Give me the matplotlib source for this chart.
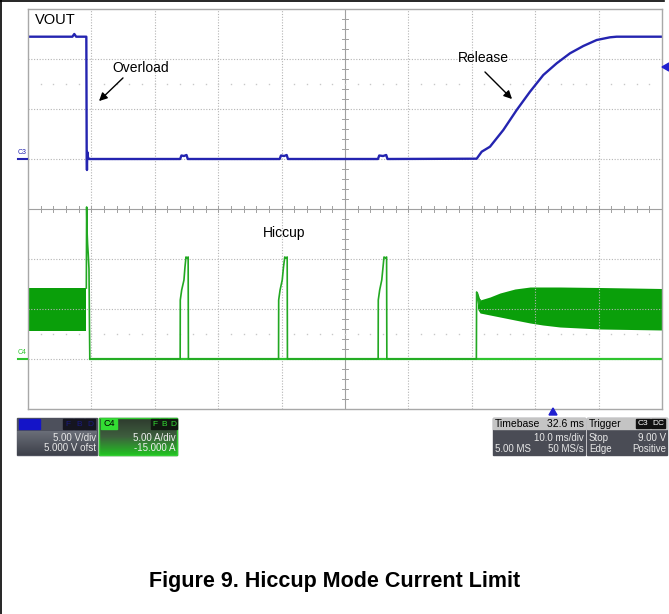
import numpy as np
import matplotlib
matplotlib.use('Agg')
import matplotlib.pyplot as plt
from matplotlib.patches import Rectangle, Polygon
from matplotlib.colors import LinearSegmentedColormap

plt.rcParams['font.family'] = ['Liberation Sans', 'DejaVu Sans']

# scope settings (10 ms/div, C3 5 V/div, C4 5 A/div)
ms_per_div = 10.0
v_per_div = 5.0
a_per_div = 5.0
c3_zero = 5.0   # divisions from bottom
c4_zero = 1.0

# VOUT (C3) trace, ms / V
vout_t = [0.0, 7.0, 7.3, 7.6, 9.2, 9.26, 9.3, 9.35, 9.45, 9.6, 24.0, 24.2, 24.6, 25.0, 25.2,
          39.7, 39.9, 40.4, 40.8, 41.0, 55.2, 55.4, 56.0, 56.5, 56.7,
          70.77, 71.56, 72.87, 74.97, 77.08, 79.18, 81.28, 83.39, 85.49, 87.59, 89.7,
          91.8, 92.85, 100.0]
vout_v = [12.23, 12.23, 12.5, 12.23, 12.23, 0.0, -1.1, 0.7, 0.2, 0.0, 0.0, 0.35, 0.3, 0.4, 0.0,
          0.0, 0.35, 0.3, 0.4, 0.0, 0.0, 0.35, 0.3, 0.4, 0.0,
          0.03, 0.73, 1.23, 2.9, 4.9, 6.73, 8.4, 9.57, 10.57, 11.3, 11.9,
          12.17, 12.23, 12.23]

# inductor current (C4) trace, ms / A
iout_t = [9.2, 9.25, 9.3, 9.4, 9.45, 9.5, 9.62, 9.7, 9.75,
          24.0, 24.02, 24.24, 24.6, 24.76, 24.92, 25.1, 25.26, 25.3,
          39.52, 39.54, 39.76, 40.1, 40.3, 40.5, 40.7, 40.88, 40.92,
          55.23, 55.25, 55.47, 55.8, 56.0, 56.15, 56.4, 56.56, 56.6,
          70.72, 70.76, 70.9, 71.1, 71.3]
iout_a = [7.1, 15.2, 13.0, 11.5, 11.0, 10.5, 9.0, 3.0, 0.0,
          0.0, 5.9, 6.9, 7.9, 9.2, 10.2, 10.1, 10.2, 0.0,
          0.0, 5.9, 6.9, 7.9, 9.2, 10.2, 10.1, 10.2, 0.0,
          0.0, 5.9, 6.9, 7.9, 9.2, 10.2, 10.1, 10.2, 0.0,
          0.0, 6.7, 6.4, 5.5, 5.9]

# switching ripple envelopes, ms / A
pre_t = [0.0, 9.2]
pre_hi = [7.1, 7.1]
pre_lo = [2.8, 2.8]
post_t = [70.9, 71.3, 72.87, 74.45, 76.8, 79.2, 81.2, 83.9, 90.2, 100.0]
post_hi = [6.7, 5.9, 6.2, 6.6, 7.0, 7.2, 7.2, 7.2, 7.15, 7.05]
post_lo = [5.0, 4.6, 4.4, 4.2, 3.9, 3.6, 3.4, 3.2, 3.0, 2.9]

blue = '#2424b0'
green_line = '#2fc42f'
green_fill = '#0a9f0a'
grid_col = '#b4b4b4'


def v2div(v):
    return c3_zero + np.asarray(v) / v_per_div


def a2div(a):
    return c4_zero + np.asarray(a) / a_per_div


fig = plt.figure(figsize=(6.69, 6.14), dpi=100)

ax = fig.add_axes([28 / 669, 205 / 614, 634 / 669, 400 / 614])
ax.set_xlim(0, 10 * ms_per_div)
ax.set_ylim(0, 8)
ax.set_xticks([])
ax.set_yticks([])
for s in ax.spines.values():
    s.set_color('#a8a8a8')
    s.set_linewidth(1.0)

# overlay in pixel coordinates for the screen furniture (on top)
ov = fig.add_axes([0, 0, 1, 1])
ov.set_zorder(5)
ov.patch.set_visible(False)
ov.set_xlim(0, 669)
ov.set_ylim(614, 0)
ov.axis('off')

# grid
for i in range(1, 10):
    if i == 5:
        ax.axvline(i * ms_per_div, color='#a0a0a0', lw=0.8)
    else:
        ax.axvline(i * ms_per_div, color=grid_col, lw=0.8, ls=(0, (1, 1.5)))
for j in range(1, 8):
    if j == 4:
        ax.axhline(j, color='#a0a0a0', lw=0.8)
    else:
        ax.axhline(j, color=grid_col, lw=0.8, ls=(0, (1, 1.5)))
# center cross ticks
for t in np.arange(0, 100.1, 2):
    ax.plot([t, t], [3.94, 4.06], color='#a0a0a0', lw=0.7)
for y in np.arange(0, 8.01, 0.2):
    ax.plot([49.5, 50.5], [y, y], color='#a0a0a0', lw=0.7)
# sparse marker rows
for y in [6.5, 1.5]:
    ax.plot(np.arange(2, 100, 2), [y] * 49, ls='none', marker='s', ms=1.0,
            color='#c8c8c8', mec='none')

# traces
ax.fill_between(pre_t, a2div(pre_lo), a2div(pre_hi), color=green_fill, lw=0)
ax.fill_between(post_t, a2div(post_lo), a2div(post_hi), color=green_fill, lw=0)
ax.plot([9.75, 100], a2div([0, 0]), color=green_line, lw=1.6, solid_joinstyle='miter')
ax.plot(iout_t, a2div(iout_a), color='#22a822', lw=1.2)
ax.plot(vout_t, v2div(vout_v), color=blue, lw=1.7)

# annotations
ov.text(35, 20, 'VOUT', fontsize=10.5, va='center', ha='left')
ov.text(112, 68, 'Overload', fontsize=10, va='center', ha='left')
ov.annotate('', xy=(97, 103), xytext=(125, 76),
            arrowprops=dict(arrowstyle='-|>', color='black', lw=1.0, mutation_scale=12))
ov.text(483, 58, 'Release', fontsize=10, va='center', ha='center')
ov.annotate('', xy=(514, 101), xytext=(483, 70),
            arrowprops=dict(arrowstyle='-|>', color='black', lw=1.0, mutation_scale=12))
ov.text(284, 233, 'Hiccup', fontsize=10, va='center', ha='center')

# channel ground markers
ov.text(18, 153, 'C3', fontsize=5, color=blue, va='center')
ov.plot([18, 27], [159, 159], color=blue, lw=1.5)
ov.text(18, 352, 'C4', fontsize=5, color=green_line, va='center')
ov.plot([18, 27], [359, 359], color=green_line, lw=1.5)
ov.add_patch(Polygon([[662, 67], [669, 63], [669, 71]], closed=True, color='#2020d0'))
ov.add_patch(Polygon([[553, 408], [549, 415], [557, 415]], closed=True, color='#2020d0'))

# frame of the page
ov.plot([1, 1], [0, 614], color='black', lw=1.2)
ov.plot([0, 664], [1, 1], color='black', lw=1.2)

# channel boxes
grad = np.linspace(0, 1, 50).reshape(-1, 1)
ov.add_patch(Rectangle((17, 418), 80, 37, color='#4d505c'))
ov.imshow(grad, extent=(17, 97, 455, 431),
          cmap=LinearSegmentedColormap.from_list('g1', ['#6a6e78', '#3e414b']),
          aspect='auto', zorder=2)
ov.add_patch(Rectangle((19, 419), 21, 10, color='#1414c8', zorder=3))
for lab, x in zip('FBD', [63, 74, 85]):
    ov.add_patch(Rectangle((x, 419), 10, 10, color='#151520', zorder=3))
    ov.text(x + 5, 424, lab, fontsize=6, color='#1a1a80', ha='center', va='center', zorder=4)
ov.text(96, 438, '5.00 V/div', fontsize=7, color='#e8e8e8', ha='right', va='center', zorder=4)
ov.text(96, 448, '5.000 V ofst', fontsize=7, color='#e8e8e8', ha='right', va='center', zorder=4)

ov.add_patch(Rectangle((99, 418), 78, 37, color='#3c5a3c'))
ov.imshow(grad, extent=(99, 177, 455, 418),
          cmap=LinearSegmentedColormap.from_list('g2', ['#2e3a2e', '#3e5e3e', '#22c022']),
          aspect='auto', zorder=2)
ov.add_patch(Rectangle((99, 418), 78, 37, fill=False, ec='#33cc33', lw=1.0, zorder=3))
ov.add_patch(Rectangle((101, 419), 16, 10, color='#33dd33', zorder=3))
ov.text(103, 424, 'C4', fontsize=6.5, color='black', va='center', zorder=4)
for lab, x in zip('FBD', [151, 160, 169]):
    ov.add_patch(Rectangle((x, 419), 8, 10, color='#101810', zorder=3))
    ov.text(x + 4, 424, lab, fontsize=6, color='#33dd33', ha='center', va='center', zorder=4)
ov.text(176, 438, '5.00 A/div', fontsize=7, color='#f0f0f0', ha='right', va='center', zorder=4)
ov.text(176, 448, '-15.000 A', fontsize=7, color='#f0f0f0', ha='right', va='center', zorder=4)

# timebase / trigger boxes
for x0, w in [(493, 92), (587, 80)]:
    ov.add_patch(Rectangle((x0, 418), w, 37, color='#4a4c55', zorder=2))
    ov.add_patch(Rectangle((x0, 418), w, 11, color='#c4c4c4', zorder=3))
ov.text(495, 424, 'Timebase', fontsize=7.5, color='black', va='center', zorder=4)
ov.text(584, 424, '32.6 ms', fontsize=7.5, color='black', ha='right', va='center', zorder=4)
ov.text(584, 438, '10.0 ms/div', fontsize=7, color='#e8e8e8', ha='right', va='center', zorder=4)
ov.text(495, 449, '5.00 MS', fontsize=7, color='#e8e8e8', va='center', zorder=4)
ov.text(584, 449, '50 MS/s', fontsize=7, color='#e8e8e8', ha='right', va='center', zorder=4)
ov.text(589, 424, 'Trigger', fontsize=7.5, color='black', va='center', zorder=4)
for lab, x in [('C3', 636), ('DC', 651)]:
    ov.add_patch(Rectangle((x, 419), 14, 9, color='#111111', zorder=3))
    ov.text(x + 7, 423.5, lab, fontsize=6, color='white', ha='center', va='center', zorder=4)
ov.text(589, 438, 'Stop', fontsize=7, color='#e8e8e8', va='center', zorder=4)
ov.text(666, 438, '9.00 V', fontsize=7, color='#e8e8e8', ha='right', va='center', zorder=4)
ov.text(589, 449, 'Edge', fontsize=7, color='#e8e8e8', va='center', zorder=4)
ov.text(666, 449, 'Positive', fontsize=7, color='#e8e8e8', ha='right', va='center', zorder=4)

ov.text(335, 582, 'Figure 9. Hiccup Mode Current Limit', fontsize=15.5, fontweight='bold',
        ha='center', va='center')

fig.savefig('out.png', dpi=100)
